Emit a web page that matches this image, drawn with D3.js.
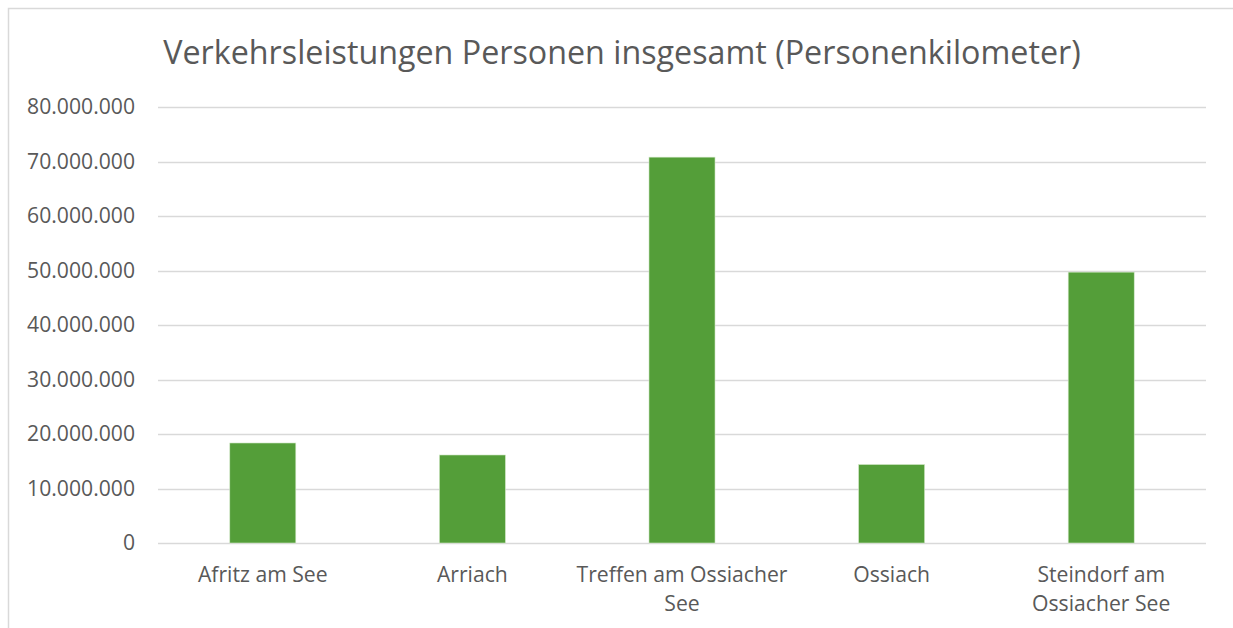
<!DOCTYPE html>
<html>
<head>
<meta charset="utf-8">
<script src="https://cdn.jsdelivr.net/npm/d3@7"></script>
<style>
  html, body { margin: 0; padding: 0; background: #fff; }
  svg { display: block; font-family: "Open Sans", "Noto Sans", sans-serif; }
</style>
</head>
<body>
<div id="chart"></div>
<script>
const title = "Verkehrsleistungen Personen insgesamt (Personenkilometer)"
const categories = ["Afritz am See", "Arriach", "Treffen am Ossiacher See", "Ossiach", "Steindorf am Ossiacher See"]
const categoryLines = [["Afritz am See"], ["Arriach"], ["Treffen am Ossiacher", "See"], ["Ossiach"], ["Steindorf am", "Ossiacher See"]]
const values = [18350000, 16150000, 70800000, 14400000, 49700000]
const yTicks = [0, 10000000, 20000000, 30000000, 40000000, 50000000, 60000000, 70000000, 80000000]

const width = 1233, height = 628
const margin = {top: 107, right: 27, bottom: 85, left: 158}
const textColor = "#595959"

const svg = d3.select("#chart")
    .append("svg")
    .attr("width", width)
    .attr("height", height)

// chart frame (runs off the right and bottom edge)
svg.append("rect")
    .attr("x", 8.5)
    .attr("y", 8.5)
    .attr("width", width + 20)
    .attr("height", height + 20)
    .attr("fill", "#fff")
    .attr("stroke", "#d9d9d9")
    .attr("stroke-width", 1.5)

const x = d3.scaleBand()
    .domain(categories)
    .range([margin.left, width - margin.right])
    .paddingInner(0.685)
    .paddingOuter(0.3425)

const y = d3.scaleLinear()
    .domain([0, 80000000])
    .range([height - margin.bottom, margin.top])

const fmt = d3.formatLocale({decimal: ",", thousands: ".", grouping: [3], currency: ["", "€"]}).format(",.0f")

// shrink/grow a text to a target width
function fitText(sel, target) {
    const w = sel.node().getComputedTextLength()
    const fs = parseFloat(sel.attr("font-size"))
    sel.attr("font-size", fs * target / w)
    return fs * target / w
}

// gridlines
svg.append("g")
    .selectAll("line")
    .data(yTicks)
    .join("line")
    .attr("x1", margin.left)
    .attr("x2", width - margin.right)
    .attr("y1", d => Math.round(y(d)) + 0.5)
    .attr("y2", d => Math.round(y(d)) + 0.5)
    .attr("stroke", "#d9d9d9")
    .attr("stroke-width", 1.5)

// y tick labels
const tickSize = 19
const yLabels = svg.append("g")
    .selectAll("text")
    .data(yTicks)
    .join("text")
    .attr("x", 135)
    .attr("y", d => y(d))
    .attr("dy", "0.35em")
    .attr("text-anchor", "end")
    .attr("fill", textColor)
    .attr("font-size", tickSize)
    .text(d => fmt(d))
const fs = fitText(d3.select(yLabels.nodes()[8]), 108)
yLabels.attr("font-size", fs)

// bars
svg.append("g")
    .selectAll("rect")
    .data(values)
    .join("rect")
    .attr("x", (d, i) => x(categories[i]))
    .attr("y", d => y(d))
    .attr("width", x.bandwidth())
    .attr("height", d => y(0) - y(d))
    .attr("fill", "#549e39")
    .attr("stroke", "#d3e8c9")
    .attr("stroke-width", 0.6)

// x labels
const xl = svg.append("g")
    .selectAll("text")
    .data(categoryLines)
    .join("text")
    .attr("text-anchor", "middle")
    .attr("fill", textColor)
    .attr("font-size", fs)
xl.each(function (lines, i) {
    const cx = x(categories[i]) + x.bandwidth() / 2
    d3.select(this).selectAll("tspan")
        .data(lines)
        .join("tspan")
        .attr("x", cx)
        .attr("y", (d, j) => 582 + j * 29)
        .text(d => d)
})

// title
const t = svg.append("text")
    .attr("x", 622)
    .attr("y", 64)
    .attr("text-anchor", "middle")
    .attr("fill", textColor)
    .attr("font-size", 30)
    .text(title)
fitText(t, 918)
</script>
</body>
</html>
